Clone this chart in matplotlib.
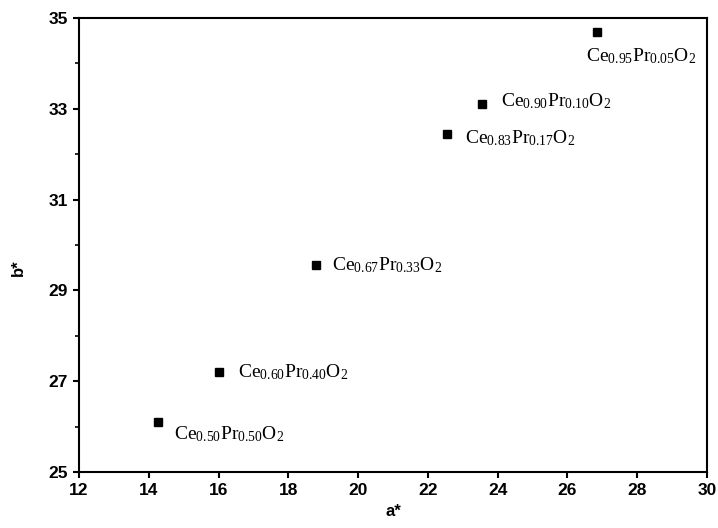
import matplotlib
matplotlib.use("Agg")
import matplotlib.pyplot as plt

plt.rcParams['mathtext.fontset'] = 'custom'
plt.rcParams['mathtext.rm'] = 'Liberation Serif'
plt.rcParams['mathtext.it'] = 'Liberation Serif:italic'

# color coordinates of Ce(1-x)Pr(x)O2 pigments
a_star = [14.25, 16.0, 18.8, 22.55, 23.55, 26.85]
b_star = [26.1, 27.2, 29.55, 32.45, 33.1, 34.7]
labels = [
    r'$\mathrm{Ce_{0.50}Pr_{0.50}O_2}$',
    r'$\mathrm{Ce_{0.60}Pr_{0.40}O_2}$',
    r'$\mathrm{Ce_{0.67}Pr_{0.33}O_2}$',
    r'$\mathrm{Ce_{0.83}Pr_{0.17}O_2}$',
    r'$\mathrm{Ce_{0.90}Pr_{0.10}O_2}$',
    r'$\mathrm{Ce_{0.95}Pr_{0.05}O_2}$',
]
# label offsets from the point, in points
offsets = [(12, -9), (14, 0), (11, 0), (13, -3), (14, 2), (-8, -18)]

x_ticks = list(range(12, 31, 2))
y_ticks = list(range(25, 36, 2))
y_minor = list(range(26, 35, 2))

fig = plt.figure(figsize=(7.18, 5.28), dpi=100)
ax = fig.add_axes([79 / 718, 56 / 528, 628 / 718, 454 / 528])

ax.plot(a_star, b_star, 's', color='black', markersize=6, linestyle='none')
for x, y, lab, off in zip(a_star, b_star, labels, offsets):
    ax.annotate(lab, (x, y), xytext=off, textcoords='offset points',
                fontsize=14, va='center', ha='left')

ax.set_xlim(12, 30)
ax.set_ylim(25, 35)
ax.set_xticks(x_ticks)
ax.set_yticks(y_ticks)
ax.set_yticks(y_minor, minor=True)

for s in ax.spines.values():
    s.set_linewidth(1.5)
ax.tick_params(which='major', direction='out', length=4, width=1.5, labelsize=12.5, pad=4)
ax.tick_params(which='minor', direction='out', length=3, width=1.2)
for t in ax.get_xticklabels() + ax.get_yticklabels():
    t.set_fontfamily('Liberation Sans')
    t.set_fontweight('bold')

ax.set_xlabel('a*', fontfamily='Liberation Sans', fontweight='bold', fontsize=12, labelpad=4)
ax.set_ylabel('b*', fontfamily='Liberation Sans', fontweight='bold', fontsize=12)
ax.yaxis.set_label_coords(-0.085, 0.45)

fig.savefig('out.png', dpi=100)
